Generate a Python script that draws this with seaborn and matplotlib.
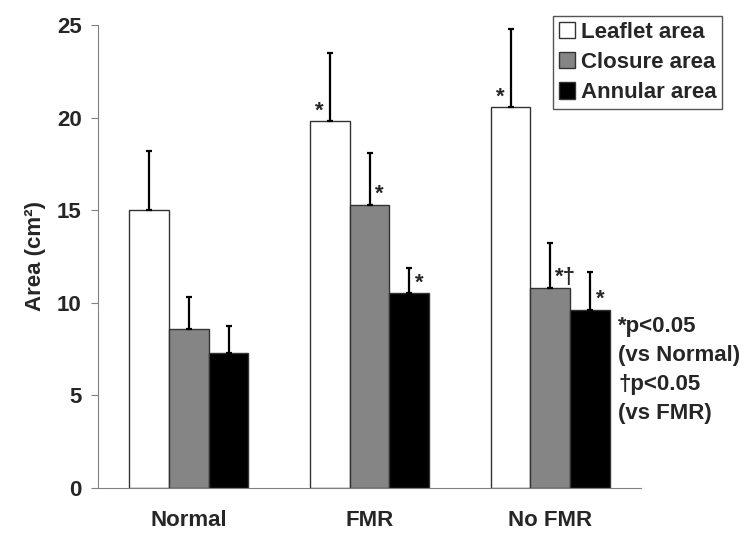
import matplotlib
matplotlib.use('Agg')
import matplotlib.pyplot as plt
import seaborn as sns
import pandas as pd
from matplotlib.patches import Patch

groups = ['Normal', 'FMR', 'No FMR']
measures = ['Leaflet area', 'Closure area', 'Annular area']
leaflet = [15.0, 19.8, 20.55]
closure = [8.6, 15.3, 10.8]
annular = [7.3, 10.5, 9.6]
leaflet_sd = [3.2, 3.7, 4.25]
closure_sd = [1.7, 2.8, 2.4]
annular_sd = [1.45, 1.35, 2.05]
# significance marks per measure, per group
marks = {
    'Leaflet area': ['', '*', '*'],
    'Closure area': ['', '*', '*\u2020'],
    'Annular area': ['', '*', '*'],
}
colors = ['white', '#858585', 'black']

df = pd.DataFrame({
    'group': groups * 3,
    'measure': [m for m in measures for _ in groups],
    'area': leaflet + closure + annular,
    'sd': leaflet_sd + closure_sd + annular_sd,
})

sns.set_style('white')
plt.rcParams['font.family'] = ['Liberation Sans', 'DejaVu Sans']
plt.rcParams['font.weight'] = 'bold'

fig = plt.figure(figsize=(7.5, 5.38), dpi=100)
ax = fig.add_axes([0.1311, 0.0935, 0.7232, 0.86])

sns.barplot(data=df, x='group', y='area', hue='measure', order=groups,
            hue_order=measures, palette=colors, errorbar=None, width=0.66,
            edgecolor='#333333', linewidth=1.0, saturation=1, legend=False, ax=ax)

for cont, m in zip(ax.containers, measures):
    sub = df[df['measure'] == m].set_index('group').loc[groups]
    for bar, sd, mk in zip(cont, sub['sd'], marks[m]):
        xc = bar.get_x() + bar.get_width() / 2
        h = bar.get_height()
        ax.errorbar(xc, h, yerr=[[0], [sd]], fmt='none', ecolor='black',
                    elinewidth=1.6, capsize=2.3, capthick=1.6)
        if not mk:
            continue
        if m == 'Leaflet area':
            ax.annotate(mk, (xc, h), xytext=(-7.5, 0), textcoords='offset points',
                        ha='center', va='bottom', fontsize=16, fontweight='bold')
        elif len(mk) > 1:
            ax.annotate(mk, (xc, h), xytext=(3.5, 0), textcoords='offset points',
                        ha='left', va='bottom', fontsize=16, fontweight='bold')
        else:
            ax.annotate(mk, (xc, h), xytext=(7, 0), textcoords='offset points',
                        ha='center', va='bottom', fontsize=16, fontweight='bold')

ax.set_xlim(-0.5, 2.5)
ax.set_ylim(0, 25)
ax.set_yticks([0, 5, 10, 15, 20, 25])
ax.set_xticks([-0.5, 0.5, 1.5, 2.5], minor=True)
ax.tick_params(axis='x', which='major', length=0, pad=16, labelsize=16)
ax.tick_params(axis='x', which='minor', length=5, color='#808080', direction='out')
ax.tick_params(axis='y', length=5, color='#808080', direction='out', pad=7, labelsize=16, left=True)
for lab in ax.get_xticklabels() + ax.get_yticklabels():
    lab.set_fontweight('bold')
ax.set_xlabel('')
ax.set_ylabel('Area (cm\u00b2)', fontsize=16, fontweight='bold', labelpad=8)
sns.despine(ax=ax)
ax.spines['left'].set_color('#808080')
ax.spines['bottom'].set_color('#808080')

handles = [Patch(facecolor=c, edgecolor='#333333', label=m) for c, m in zip(colors, measures)]
fig.legend(handles=handles, loc='upper right', bbox_to_anchor=(0.9627, 0.9703),
           fancybox=False, framealpha=1, edgecolor='#555555',
           handlelength=0.75, handleheight=0.75, handletextpad=0.25, labelspacing=0.42,
           borderpad=0.25, borderaxespad=0, prop={'weight': 'bold', 'size': 16})

fig.text(0.824, 1 - 316 / 538, '*p<0.05\n(vs Normal)\n\u2020p<0.05\n(vs FMR)',
         ha='left', va='top', fontsize=16, fontweight='bold', linespacing=1.5)

fig.savefig('out.png', dpi=100)
